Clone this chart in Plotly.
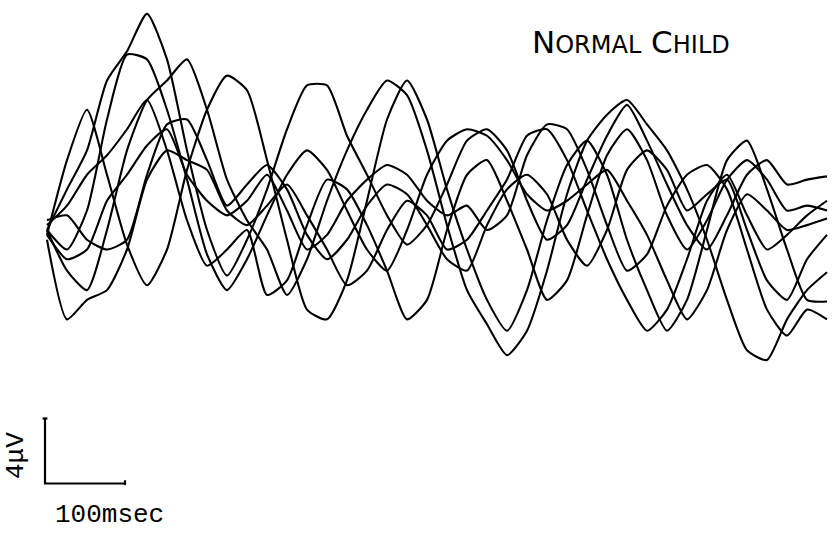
import plotly.graph_objects as go

# time axis (msec), 25 ms samples
time_ms = [i * 25 for i in range(40)]

# amplitude of each sweep (microvolts)
sweep_1 = [0, 2.5, 4.9, 9.2, 11.0, 13.3, 10.5, 4.9, 0, -2.8, -0.6, 2.5, 6.2, 8.9, 8.9, 5.8, 3.4, 0.9, -0.9, 0.3,
           2.8, 5.5, 6.2, 4.9, 1.8, -0.6, 0.3, 3.1, 5.8, 7.7, 5.5, 2.8, 0.3, -1.2, 0.9, 3.4, 4.3, 2.8, 3.1, 3.3]
sweep_2 = [-0.3, 4.3, 7.4, 3.4, -0.9, -3.4, -1.2, 3.7, 7.4, 9.5, 8.6, 4.3, -0.6, -4.9, -5.5, -3.1, 1.8, 6.8, 9.2, 6.8,
           2.5, -1.2, -4.3, -6.2, -3.7, 0.6, 4.0, 5.5, 3.4, -0.6, -3.7, -6.2, -4.3, 0, 4.3, 5.5, 2.5, -1.2, -4.3, -4.4]
sweep_3 = [0, -2.5, -3.7, 0, 4.9, 8.0, 9.2, 10.5, 7.4, 3.1, 0.6, -1.2, -4.0, -1.8, 1.8, 4.9, 7.4, 9.2, 8.3, 4.9,
           0.3, -3.7, -5.8, -7.7, -6.2, -2.5, 2.2, 5.5, 7.1, 8.0, 6.5, 4.9, 2.5, -0.6, -4.3, -7.4, -8.0, -5.5, -3.7, -2.6]
sweep_4 = [0, -1.2, 1.2, 6.8, 10.8, 10.5, 7.4, 3.1, -1.5, -3.7, -1.8, 0.9, 3.4, 4.9, 3.7, 1.2, -1.2, -2.5, 0, 3.4,
           5.5, 6.2, 5.8, 4.3, 2.2, 1.2, 1.8, 2.8, 3.7, 1.8, -0.3, -3.1, -5.5, -3.7, 0, 2.2, 1.2, 0, 0.3, 0.7]
sweep_5 = [-0.6, -5.5, -4.3, -3.7, -1.2, 3.1, 4.9, 4.3, 3.7, 1.2, 0.3, 1.5, 2.8, 0.9, -1.2, -3.4, -2.5, 0, 1.8, 0.9,
           -1.2, -0.6, 1.2, 3.1, 5.8, 6.2, 4.3, 1.2, -1.8, -4.3, -6.2, -4.9, -1.8, 1.8, 3.4, 0.9, -1.2, -0.3, 0.9, 1.8]
sweep_6 = [0.6, 0.9, -0.6, -1.2, -0.6, 3.4, 6.5, 6.8, 4.3, 1.5, 2.8, 4.0, 2.5, -0.3, -1.8, -0.6, 1.5, 2.8, 2.2, 0.3,
           -1.8, -2.5, 0.3, 2.5, 3.4, 2.2, -0.6, -2.2, 0, 3.7, 4.9, 3.7, 1.2, 2.2, 3.1, 0, -3.1, -4.3, -1.8, -0.3]
sweep_7 = [0.3, 1.5, 3.4, 4.6, 6.2, 8.0, 4.9, 0.6, -2.2, -1.2, 0, -4.0, -3.1, 0.3, 3.1, 2.5, 0.3, -2.5, -5.5, -4.3,
           0, 3.4, 4.3, 1.8, -1.2, -4.3, -3.1, 0.9, 4.6, 6.2, 4.3, 0.9, -1.2, 0.6, 3.1, 4.3, 3.1, 1.2, 1.5, 1.2]
sweep_8 = [-0.3, -1.8, -1.2, 1.8, 3.4, 5.2, 6.2, 3.4, 1.8, 0.9, 1.8, 3.4, 1.2, -1.2, -0.3, 1.8, 3.1, 4.0, 3.4, 1.8,
           0.9, 1.5, 0, 0.9, 4.6, 6.5, 6.2, 3.7, 0.3, -2.5, -1.5, 1.5, 3.4, 4.0, 2.5, -1.2, -4.9, -6.5, -4.9, -5.5]

sweeps = [sweep_1, sweep_2, sweep_3, sweep_4, sweep_5, sweep_6, sweep_7, sweep_8]

# calibration bar: 100 msec by 4 microvolts
cal_time_ms = 100
cal_amp_uv = 4
cal_origin = (-2.5, -15.6)

fig = go.Figure()
for s in sweeps:
    fig.add_trace(go.Scatter(x=time_ms, y=s, mode="lines",
                             line=dict(color="black", width=2.1, shape="spline", smoothing=0.6),
                             showlegend=False, hoverinfo="skip"))

ox, oy = cal_origin
fig.add_trace(go.Scatter(
    x=[ox - 3, ox + 3, None, ox, ox, ox + cal_time_ms, None, ox + cal_time_ms, ox + cal_time_ms],
    y=[oy + cal_amp_uv, oy + cal_amp_uv, None, oy + cal_amp_uv, oy, oy, None, oy + 0.2, oy - 0.1],
    mode="lines", line=dict(color="black", width=2.2), showlegend=False, hoverinfo="skip"))

W, H = 832, 534
fig.update_layout(
    width=W, height=H, margin=dict(l=0, r=0, t=0, b=0),
    paper_bgcolor="white", plot_bgcolor="white",
    xaxis=dict(range=[-58.75, 981.25], visible=False),
    yaxis=dict(range=[-18.708, 14.154], visible=False),
    annotations=[
        dict(x=530 / W, y=1 - 42 / H, xref="paper", yref="paper", showarrow=False,
             xanchor="left", yanchor="middle",
             text="N<span style='font-size:24px'>ORMAL</span> C<span style='font-size:24px'>HILD</span>",
             font=dict(family="DejaVu Sans", size=31, color="black")),
        dict(x=53 / W, y=1 - 515 / H, xref="paper", yref="paper", showarrow=False,
             xanchor="left", yanchor="middle",
             text="100msec", font=dict(family="Liberation Mono", size=26, color="black")),
        dict(x=16 / W, y=1 - 456 / H, xref="paper", yref="paper", showarrow=False,
             xanchor="center", yanchor="middle",
             text="4μV", textangle=-90, font=dict(family="Liberation Mono", size=26, color="black")),
    ],
)
fig.write_html("out.html")
